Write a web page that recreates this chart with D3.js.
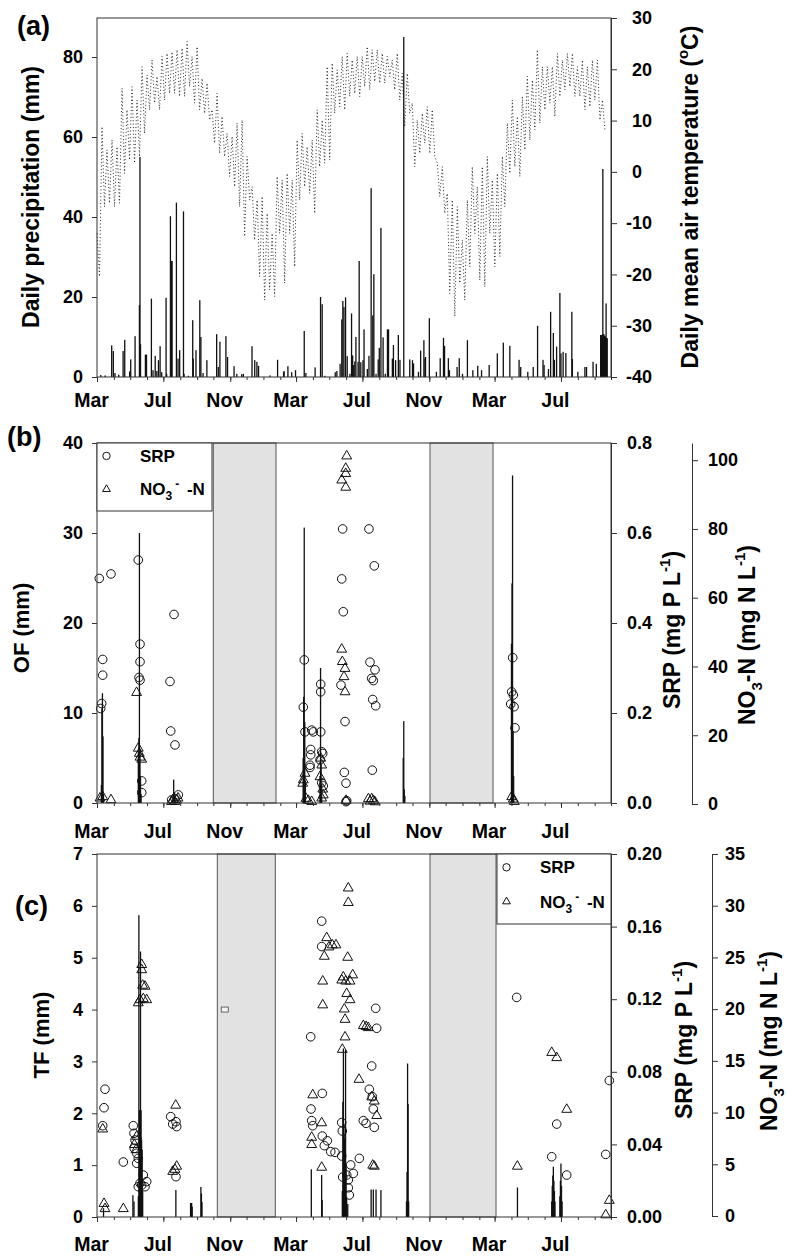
<!DOCTYPE html>
<html>
<head>
<meta charset="utf-8">
<script src="https://cdn.jsdelivr.net/npm/d3@7"></script>
<style>
  body { margin: 0; background: #fff; }
  svg { display: block; font-family: "Liberation Sans", Arial, sans-serif; font-weight: bold; }
  .axis path, .axis line { stroke: #333; }
  .axis text { font-size: 18px; font-weight: bold; fill: #000; font-family: "Liberation Sans", Arial, sans-serif; }
  .axis.time text { font-size: 19.5px; }
</style>
</head>
<body>
<script>
'use strict';

// all days are counted from 1 March of the first season
const START = Date.UTC(2011, 2, 1);
const END = Date.UTC(2013, 9, 1);

// (a) daily precipitation [day, mm]
const precip = [
	[7,0.5],[15,0.4],[27,7.9],[30,6.5],[33,1],[40,0.6],[48,6.5],[51,9.3],[60,1.4],[62,4.4],
	[70,10.2],[78,18],[79,55],[80,8.2],[89,5.6],[91,5.6],[100,19.6],[103,1.7],[107,5.3],[110,1.5],
	[113,4.2],[116,7.7],[119,1.2],[127,19.8],[128,0.8],[135,40.2],[137,29],[138,29],[146,43.6],[149,4.6],
	[152,6.7],[159,41.4],[160,0.8],[168,0.3],[176,14.2],[177,4.6],[182,6.7],[189,19.2],[191,10],[195,1],
	[202,4.2],[220,10.7],[223,2.5],[226,8.8],[237,10.2],[240,5],[252,2.7],[257,0.8],[266,0.7],[269,0.8],
	[285,7.7],[290,4.2],[294,3.8],[297,2.8],[318,0.4],[332,4.3],[343,1.2],[344,1.5],[351,2.7],[358,1.2],
	[365,1.7],[381,11.5],[384,1],[401,2.4],[411,20],[414,18.2],[419,0.3],[438,1.2],[441,1.5],[447,3.3],
	[450,14.4],[452,19],[454,17.5],[457,19.9],[460,5.2],[465,0.8],[468,15.9],[470,5.4],[472,3],[474,3.9],
	[476,10],[480,3.8],[482,29],[485,3.7],[489,4.2],[491,11.9],[497,2],[500,5.3],[504,47.2],[507,15.4],
	[509,25.7],[513,0.8],[517,4.4],[519,7.3],[522,37.3],[526,9.9],[530,0.8],[534,11.9],[536,11.9],[543,4.6],
	[545,8],[549,4.2],[554,10.5],[557,4.3],[564,85],[575,4.4],[580,4.2],[582,3.4],[591,1.3],[595,6.6],
	[601,9.2],[603,4.6],[604,5],[611,14.7],[624,1.3],[631,4.7],[637,9.8],[639,7.8],[646,4.7],[648,1.7],
	[662,2.5],[666,4.7],[672,0.8],[681,9.2],[691,1.7],[700,2.8],[707,1.7],[721,3],[736,5.9],[747,8.6],
	[759,7.8],[776,4.3],[779,2.5],[792,1.3],[802,2.5],[810,12.8],[820,4.3],[822,3],[830,2],[834,16.3],
	[839,11],[841,4.3],[845,7.6],[851,21],[853,5.9],[857,6.3],[862,6],[873,16.3],[874,4.5],[884,1.3],
	[897,2.5],[900,2.5],[912,3.8],[918,3.3],[926,10.5],[927,10.5],[928,10.5],[929,10.5],[930,52],[931,10.7],
	[932,10.7],[933,10.2],[934,10.2],[935,10],[936,18.4],[937,9.7],[938,9.7]
];

// (a) daily mean air temperature, read every 4.6 days (high / low of each swing)
const tempStep = 4.6;
const temp = [
	-12.0,-20.4, 8.8,-6.8, 4.3,-6.1, 6.2,-6.8, 4.9,-6.1, 16.3,-0.3, 12.1,2.3, 16.6,1.7, 14.0,3.0, 20.5,7.5,
	18.9,12.1, 21.8,13.4, 18.6,12.1, 22.5,14.0, 23.1,15.3, 23.4,15.3, 23.8,14.7, 24.1,14.7, 25.4,16.6, 22.5,13.4,
	24.4,12.1, 18.2,11.4, 17.3,10.1, 12.1,5.6, 15.3,3.6, 10.8,3.0, 7.5,-0.9, 6.9,-2.9, 9.5,-6.8, 10.1,-12.6,
	3.0,-5.5, -2.9,-13.3, -5.5,-20.4, -4.8,-25.0, -8.1,-23.0, -12.0,-24.3, -0.9,-12.0, -1.6,-21.7, -0.3,-12.0, -1.6,-18.5,
	6.2,-5.5, 7.5,-2.9, 4.9,-4.2, 6.2,-8.1, 12.1,1.0, 10.1,1.7, 20.5,2.3, 21.2,11.4, 19.9,12.7, 22.5,12.1,
	23.1,14.7, 21.8,15.3, 22.5,14.7, 22.5,16.6, 24.4,16.0, 23.8,17.6, 23.8,17.3, 23.1,17.3, 22.5,18.6, 21.8,16.0,
	23.1,14.0, 19.2,8.8, 19.2,11.4, 13.4,1.0, 10.1,3.6, 11.4,5.6, 12.7,3.6, 12.1,3.0, 1.7,-4.8, 1.0,-8.1,
	-4.2,-23.7, -5.5,-28.2, -6.8,-21.7, -13.3,-25.0, -5.5,-18.5, 1.0,-12.0, -2.9,-21.1, 1.0,-22.4, 3.0,-12.0, -1.6,-18.5,
	-0.3,-16.5, 3.0,-6.8, 9.5,-0.3, 14.0,1.0, 10.8,-0.9, 14.7,4.3, 18.6,6.2, 17.9,8.2, 23.8,9.5, 20.5,12.1,
	20.5,13.4, 20.5,10.8, 23.1,14.7, 21.8,16.0, 23.1,16.6, 23.1,14.7, 20.5,14.7, 21.8,12.1, 20.5,12.7, 21.8,14.0,
	21.8,10.1, 14.0,8.2
];

// (b) overland flow [day, mm], SRP [day, mg P/L], NO3-N [day, mg N/L]
const ofBars = [
	[8,2],[9,10.5],[10,12.2],[11,7.4],[12,1],
	[76,5.8],[77,7.2],[78,30],[79,6],[80,3],[81,1],
	[140,1],[141,2.6],[142,1.2],[143,0.6],
	[379,5],[380,11.8],[381,30.6],[382,9],[383,2.5],
	[410,3],[411,15],[412,4.5],[413,2],
	[563,5],[564,9.1],[565,1.5],[566,0.8],
	[762,17.7],[763,24.4],[764,36.4],[765,8],[766,3]
];
const ofSrp = [
	[4.2,0.499],[25.7,0.509],[10.5,0.319],[10.5,0.284],[8.6,0.221],[6.8,0.210],
	[75.9,0.540],[79.1,0.353],[79.1,0.314],[77.2,0.279],[79.1,0.273],[82.2,0.049],[82.2,0.023],
	[141.6,0.419],[134.2,0.270],[135.5,0.160],[143.4,0.129],[149.5,0.018],[143.4,0.010],[137.3,0.007],
	[381.1,0.318],[379.3,0.213],[382.4,0.158],[394.7,0.162],[397.7,0.158],[411.3,0.158],[392.9,0.119],[392.9,0.107],[391.6,0.084],[391.6,0.079],
	[411.3,0.264],[411.3,0.247],[413.1,0.114],[415,0.110],[410,0.096],[413.1,0.045],[416,0.038],
	[451.6,0.609],[449.9,0.498],[452.8,0.425],[448.6,0.262],[456,0.181],[454.7,0.068],[457.8,0.044],[459.1,0.005],[457.8,0.003],
	[500,0.609],[509.8,0.527],[501.9,0.313],[511.1,0.296],[505,0.277],[508,0.272],[506.9,0.230],[512.4,0.216],[506.1,0.073],
	[764.3,0.323],[762.4,0.247],[765.4,0.240],[760.6,0.220],[766.7,0.214],[768.5,0.167]
];
const ofNo3 = [
	[5.5,1.7],[10.5,2.1],[25.7,1.2],
	[72.8,32.4],[75.9,16.2],[77.8,14.7],[79.1,13.6],[82.2,13.0],
	[137,0.7],[140,1.2],[143,0.7],[146,1.2],[149,1.7],
	[459.1,101.2],[457.3,97.6],[457.3,96.1],[449.9,94.2],[457.3,92.1],[449.9,45.0],[451,41.4],[456,39.4],[454.1,37.0],[456,32.6],[457.8,1.0],
	[382.4,8.9],[379.3,7.0],[378.2,6.0],[384.3,1.6],[388.5,1.0],[394.7,0.7],
	[411.3,13.3],[413.1,11.3],[410,7.9],[415,4.3],[416,2.6],[413.1,1.7],
	[499,1.5],[502,0.8],[505,1.5],[508,1.0],[511,0.6],
	[762.4,2.1],[765.4,1.4],[767.2,0.7]
];
const ofWinter = [[213.8, 329.1], [612.2, 728.1]];

// (c) throughfall [day, mm], SRP, NO3-N
const tfBars = [
	[12,0.17],[66,0.42],[68,0.3],
	[76,0.4],[77,5.82],[78,2.06],[79,2.0],[80,5.12],[81,2.06],[82,1.48],[83,1.3],[84,0.5],
	[145,0.52],[172,0.27],[173,0.25],[174,0.27],[175,0.2],[191,0.58],[192,0.45],[193,0.29],
	[394,0.92],[413,0.81],[414,0.33],
	[451,0.5],[452,2.22],[453,3.25],[454,1.8],[455,1.5],[456,1.6],[457,3.22],[458,1.0],[459,0.39],[461,0.25],
	[504,0.53],[508,0.53],[513,0.53],[522,0.52],
	[569,0.3],[570,0.87],[571,2.96],[572,2.18],[573,0.3],
	[773,0.57],
	[836,0.3],[837,0.6],[838,0.8],[839,0.97],[840,0.7],[841,0.5],[842,0.3],
	[851,0.4],[852,0.7],[853,1.03],[854,0.6],[855,0.3]
];
const tfSrp = [
	[14.7,0.0704],[12.9,0.0602],[10.5,0.0503],[48.4,0.0303],
	[66.7,0.0503],[68,0.0461],[69.9,0.0424],[68.6,0.0378],[73,0.0351],[75.9,0.0323],[73,0.0296],[85.1,0.0231],[91.4,0.0195],[82.2,0.0176],[75.9,0.0167],[88.3,0.0167],[79.1,0.0186],
	[135.5,0.0553],[139.2,0.0512],[145.2,0.0525],[146.5,0.0498],[145.2,0.0222],
	[413.1,0.163],[413.1,0.149],[392.9,0.0993],[512.4,0.115],[514.2,0.104],[505,0.0832],[500.6,0.0704],[506.1,0.0663],[508,0.0595],[509.8,0.0494],[489.6,0.0531],[494.6,0.0516],[482.3,0.0323],
	[414.2,0.0681],[393.5,0.0595],[394.7,0.0531],[396.6,0.0503],[414.2,0.0446],[423.4,0.042],[417.9,0.0393],[429.7,0.036],[437.6,0.0356],[449.9,0.0336],[449.9,0.052],[451,0.0474],[466.4,0.0287],[471.2,0.024],[451.7,0.022],[459.1,0.0231],[462,0.0204],[462,0.0161],[463.9,0.0121],
	[771.6,0.121],[836,0.0332],[845.2,0.0512],[863.6,0.0231],[935.3,0.0345],[941.9,0.0752]
];
const tfNo3 = [
	[10.5,8.4],[12.9,1.2],[14.7,0.7],[48.4,0.7],
	[82.2,24.3],[82.2,23.8],[84,22.3],[88.3,22.2],[91.4,20.9],[79.1,20.9],[75.9,20.6],[85.1,21.0],[73,7.7],[68.6,6.9],[71.7,6.4],
	[144.7,10.7],[146.5,4.8],[139.2,4.3],[143.4,4.5],
	[462,31.7],[462,30.3],[422.3,26.9],[432.6,26.2],[439.4,26.2],[426.5,26.0],[417.9,25.1],[460.9,25.0],[415,22.7],[452.8,23.1],[470.1,23.3],[457.3,22.7],[465.2,22.7],[449.9,22.8],[459.1,21.5],[465.2,20.9],[415,20.4],[454.7,20.0],[456,19.0],[456,17.3],[451,16.1],
	[489.6,18.4],[494.6,18.3],[498.8,18.2],[481.7,13.2],[396.6,11.7],[413.1,9.0],[394.7,7.6],[394.7,6.9],[413.1,4.7],[505,11.5],[509.8,11.1],[514.2,9.7],[506.9,4.9],[509.8,4.8],
	[772.8,4.8],[836,15.8],[845.2,15.3],[863.6,10.3],[941.9,1.5],[935.3,0.1]
];
const tfWinter = [[221.2, 327.8], [612.2, 733.6]];
const tfOutlier = [[235, 4.0]];

// tick labels
const precipTicks = [0, 20, 40, 60, 80];
const tempTicks = [-40, -30, -20, -10, 0, 10, 20, 30];
const ofTicks = [0, 10, 20, 30, 40];
const ofSrpTicks = [0, 0.2, 0.4, 0.6, 0.8];
const ofNo3Ticks = [0, 20, 40, 60, 80, 100];
const tfTicks = [0, 1, 2, 3, 4, 5, 6, 7];
const tfSrpTicks = [0, 0.04, 0.08, 0.12, 0.16, 0.20];
const tfNo3Ticks = [0, 5, 10, 15, 20, 25, 30, 35];

const svg = d3.select("body").append("svg")
			  .attr("width", 786)
			  .attr("height", 1256);

const day = d => new Date(START + d * 864e5);

const x = d3.scaleUtc()
			.domain([new Date(START), new Date(END)])
			.range([97, 611]);

const months = d3.utcMonth.range(new Date(START), new Date(END + 1));
const majorMonths = months.filter(m => m.getUTCMonth() % 4 === 2);

function frame(top, bottom) {
	svg.append("rect")
	   .attr("x", 97).attr("y", top)
	   .attr("width", 514).attr("height", bottom - top)
	   .attr("fill", "none").attr("stroke", "#333");
}

function timeAxis(bottom, labelY) {
	var minor = svg.append("g").attr("class", "axis").attr("transform", `translate(0,${bottom})`)
				   .call(d3.axisBottom(x).tickValues(months).tickSize(3).tickFormat(""));
	minor.select(".domain").remove();

	var major = svg.append("g").attr("class", "axis time").attr("transform", `translate(0,${bottom})`)
				   .call(d3.axisBottom(x).tickValues(majorMonths).tickSize(5).tickFormat(d3.utcFormat("%b")));
	major.select(".domain").remove();
	major.selectAll("text").attr("x", -6).attr("y", labelY - bottom).attr("dy", null);
}

function leftAxis(scale, ticks) {
	var g = svg.append("g").attr("class", "axis").attr("transform", "translate(97,0)")
			   .call(d3.axisLeft(scale).tickValues(ticks).tickSize(5).tickSizeOuter(0)
			   .tickPadding(9).tickFormat(d => String(d)));
	g.select(".domain").remove();
	return g;
}

function rightAxis(scale, xPos, ticks, fmt, pad) {
	return svg.append("g").attr("class", "axis").attr("transform", `translate(${xPos},0)`)
			  .call(d3.axisRight(scale).tickValues(ticks).tickSize(6).tickSizeOuter(0)
			  .tickPadding(pad).tickFormat(fmt));
}

function title(tx, ty, size, parts, rotate = true) {
	var t = svg.append("text")
			   .attr("transform", `translate(${tx},${ty})` + (rotate ? " rotate(-90)" : ""))
			   .attr("text-anchor", rotate ? "middle" : "start")
			   .style("font-size", size + "px");
	var shift = 0;
	parts.forEach(([s, kind]) => {
		var target = kind === "sup" ? -0.45 * size : kind === "sub" ? 0.3 * size : 0;
		var span = t.append("tspan").attr("dy", target - shift).text(s);
		if (kind) span.style("font-size", (0.65 * size) + "px");
		shift = target;
	});
	return t;
}

function bars(data, scale, color) {
	svg.append("g").selectAll("rect").data(data).join("rect")
	   .attr("x", d => x(day(d[0])) - 0.65)
	   .attr("width", 1.3)
	   .attr("y", d => scale(d[1]))
	   .attr("height", d => scale(0) - scale(d[1]))
	   .attr("fill", color);
}

function circles(data, scale, r = 4.3) {
	svg.append("g").selectAll("circle").data(data).join("circle")
	   .attr("cx", d => x(day(d[0])))
	   .attr("cy", d => scale(d[1]))
	   .attr("r", r)
	   .attr("fill", "none").attr("stroke", "#111").attr("stroke-width", 1);
}

const triPath = d3.symbol().type(d3.symbolTriangle).size(42)();
const triSmall = d3.symbol().type(d3.symbolTriangle).size(26)();

function triangles(data, scale) {
	svg.append("g").selectAll("path").data(data).join("path")
	   .attr("d", triPath)
	   .attr("transform", d => `translate(${x(day(d[0]))},${scale(d[1])})`)
	   .attr("fill", "none").attr("stroke", "#111").attr("stroke-width", 1);
}

function winter(spans, top, bottom) {
	svg.append("g").selectAll("rect").data(spans).join("rect")
	   .attr("x", d => x(day(d[0])))
	   .attr("width", d => x(day(d[1])) - x(day(d[0])))
	   .attr("y", top).attr("height", bottom - top)
	   .attr("fill", "#e2e2e2").attr("stroke", "#555");
}

function legend(x0, y0, x1, y1, textX) {
	svg.append("rect")
	   .attr("x", x0).attr("y", y0).attr("width", x1 - x0).attr("height", y1 - y0)
	   .attr("fill", "#fff").attr("stroke", "#333");
	var r1 = y0 + (y1 - y0) * 0.19, r2 = y0 + (y1 - y0) * 0.68;
	svg.append("circle").attr("cx", x0 + 9.5).attr("cy", r1).attr("r", 3.7)
	   .attr("fill", "none").attr("stroke", "#111");
	svg.append("path").attr("d", triSmall).attr("transform", `translate(${x0 + 9.5},${r2})`)
	   .attr("fill", "none").attr("stroke", "#111");
	svg.append("text").attr("x", textX).attr("y", r1 + 6).style("font-size", "17px").text("SRP");
	var t = svg.append("text").attr("x", textX).attr("y", r2 + 6).style("font-size", "17px");
	t.append("tspan").text("NO");
	t.append("tspan").attr("dy", 5).style("font-size", "12px").text("3");
	t.append("tspan").attr("dy", -12).attr("dx", 3).style("font-size", "12px").text("-");
	t.append("tspan").attr("dy", 7).attr("dx", 3).text(" -N");
}

// ---------- (a) precipitation and air temperature ----------
const yPrecip = d3.scaleLinear().domain([0, 89.75]).range([377, 18]);
const yTemp = d3.scaleLinear().domain([-40, 30]).range([377, 18]);

svg.append("path")
   .datum(temp)
   .attr("d", d3.line().x((d, i) => x(day(i * tempStep))).y(d => yTemp(d)))
   .attr("fill", "none").attr("stroke", "#111").attr("stroke-width", 0.9)
   .attr("stroke-dasharray", "1,2.4");

bars(precip, yPrecip, "#111");
frame(18, 377);
timeAxis(377, 407);
leftAxis(yPrecip, precipTicks);
rightAxis(yTemp, 611, tempTicks, d => String(d), 9)
	.selectAll("text").attr("x", d => d < 0 ? 15 : 21);

title(39, 197, 23, [["Daily precipitation (mm)"]]);
title(698, 197, 23, [["Daily mean air temperature ("], ["o", "sup"], ["C)"]]);
svg.append("text").attr("x", 17).attr("y", 35).style("font-size", "27px").text("(a)");

// ---------- (b) overland flow ----------
const yOf = d3.scaleLinear().domain([0, 40]).range([803, 443]);
const yOfSrp = d3.scaleLinear().domain([0, 0.8]).range([803, 443]);
const yOfNo3 = d3.scaleLinear().domain([0, 105]).range([804, 443]);

winter(ofWinter, 443, 803);
bars(ofBars, yOf, "#111");
circles(ofSrp, yOfSrp);
triangles(ofNo3, yOfNo3);
frame(443, 803);
timeAxis(803, 838);
leftAxis(yOf, ofTicks);
rightAxis(yOfSrp, 611, ofSrpTicks, d3.format(".1f"), 10);
rightAxis(yOfNo3, 692, ofNo3Ticks, d => String(d), 10);
legend(97, 443, 212, 511, 140);

title(29, 628, 22, [["OF (mm)"]]);
title(680, 630, 23, [["SRP (mg P L"], ["-1", "sup"], [")"]]);
title(755, 635, 23, [["NO"], ["3", "sub"], ["-N (mg N L"], ["-1", "sup"], [")"]]);
svg.append("text").attr("x", 7).attr("y", 446).style("font-size", "27px").text("(b)");

// ---------- (c) throughfall ----------
const yTf = d3.scaleLinear().domain([0, 7]).range([1217, 854]);
const yTfSrp = d3.scaleLinear().domain([0, 0.2]).range([1217, 854]);
const yTfNo3 = d3.scaleLinear().domain([0, 35]).range([1216, 854]);

winter(tfWinter, 854, 1217);
bars(tfBars, yTf, "#111");
svg.append("g").selectAll("rect").data(tfOutlier).join("rect")
   .attr("x", d => x(day(d[0])) - 3.5).attr("y", d => yTf(d[1]) - 2.5)
   .attr("width", 7).attr("height", 5)
   .attr("fill", "#f4f4f4").attr("stroke", "#666");
circles(tfSrp, yTfSrp);
triangles(tfNo3, yTfNo3);
frame(854, 1217);
timeAxis(1217, 1251);
leftAxis(yTf, tfTicks);
rightAxis(yTfSrp, 611, tfSrpTicks, d3.format(".2f"), 10);
rightAxis(yTfNo3, 712, tfNo3Ticks, d => String(d), 7);
legend(497, 854, 611, 924, 540);

title(49, 1035, 22, [["TF (mm)"]]);
title(692, 1040, 23, [["SRP (mg P L"], ["-1", "sup"], [")"]]);
title(777, 1041, 23, [["NO"], ["3", "sub"], ["-N (mg N L"], ["-1", "sup"], [")"]]);
svg.append("text").attr("x", 15).attr("y", 915).style("font-size", "27px").text("(c)");
</script>
</body>
</html>
